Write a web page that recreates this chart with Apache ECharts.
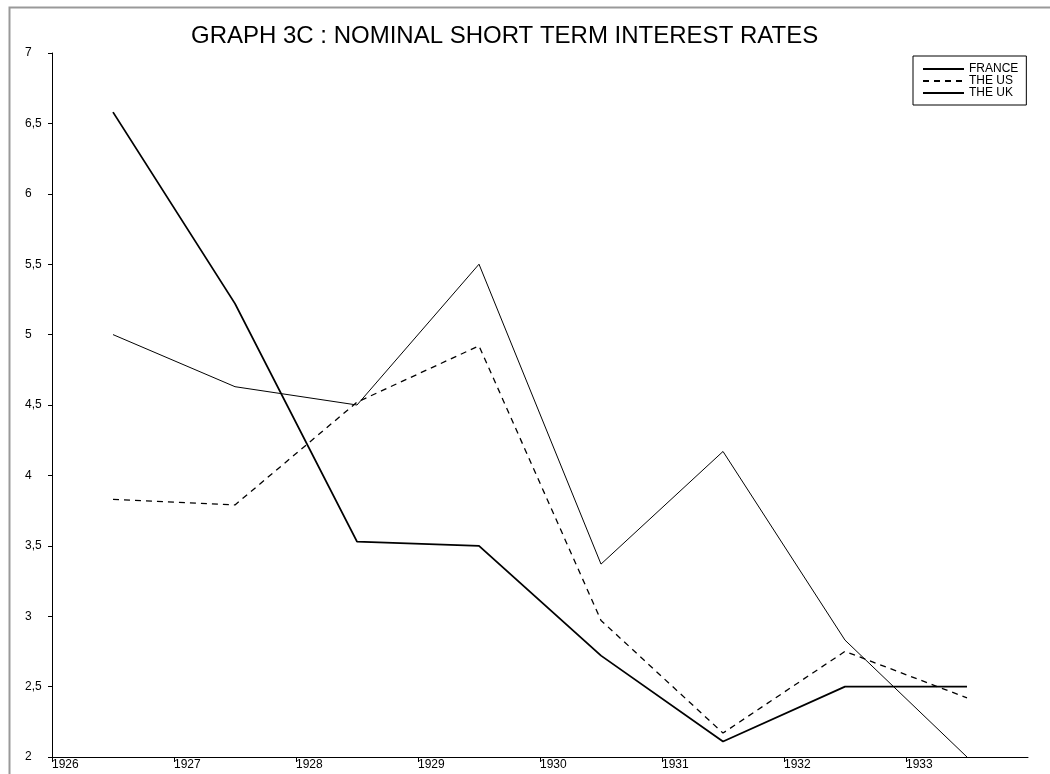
<!DOCTYPE html>
<html>
<head>
<meta charset="utf-8">
<script src="https://cdn.jsdelivr.net/npm/echarts@6/dist/echarts.min.js"></script>
<style>html,body{margin:0;padding:0;background:#fff}#c{width:1050px;height:774px}</style>
</head>
<body>
<div id="c"></div>
<script>
const years = [1926.5, 1927.5, 1928.5, 1929.5, 1930.5, 1931.5, 1932.5, 1933.5];
const france = [6.58, 5.22, 3.53, 3.50, 2.72, 2.11, 2.50, 2.50];
const us = [3.83, 3.79, 4.52, 4.92, 2.97, 2.17, 2.75, 2.42];
const uk = [5.00, 4.63, 4.50, 5.50, 3.37, 4.17, 2.83, 2.00];
const seriesNames = ['FRANCE', 'THE US', 'THE UK'];
const titleText = 'GRAPH 3C : NOMINAL SHORT TERM INTEREST RATES';

const pair = (xs, ys) => xs.map((x, i) => [x, ys[i]]);
const font = 'Liberation Sans, Arial, sans-serif';

const chart = echarts.init(document.getElementById('c'), null, {renderer: 'canvas'});
chart.setOption({
  animation: false,
  backgroundColor: '#fff',
  title: {
    text: titleText,
    left: 186,
    top: 19,
    textStyle: {fontFamily: font, fontSize: 24, fontWeight: 'normal', color: '#000'}
  },
  graphic: [{
    type: 'rect', left: 7, top: 5,
    shape: {width: 1100, height: 1000},
    style: {fill: 'none', stroke: '#999', lineWidth: 2}, silent: true, z: -1
  }],
  legend: {
    orient: 'vertical',
    left: 913, top: 56,
    itemGap: 0, itemWidth: 41, itemHeight: 11.5,
    padding: [7, 8, 6, 9],
    borderColor: '#000', borderWidth: 1,
    itemStyle: {opacity: 0},
    textStyle: {fontFamily: font, fontSize: 12, color: '#000', padding: [0, 0, 0, 0]},
    data: seriesNames
  },
  grid: {left: 52, right: 22, top: 53, bottom: 17, containLabel: false},
  xAxis: {
    type: 'value', min: 1926, max: 1934, interval: 1,
    axisLine: {lineStyle: {color: '#000', width: 1}},
    axisTick: {show: true, length: 5, lineStyle: {color: '#000'}},
    splitLine: {show: false},
    axisLabel: {
      fontFamily: font, fontSize: 12, color: '#000', align: 'left', margin: 2,
      showMaxLabel: false,
      formatter: v => String(v)
    }
  },
  yAxis: {
    type: 'value', min: 2, max: 7, interval: 0.5,
    axisLine: {show: true, lineStyle: {color: '#000', width: 1}},
    axisTick: {show: true, length: 4, lineStyle: {color: '#000'}},
    splitLine: {show: false},
    axisLabel: {
      fontFamily: font, fontSize: 12, color: '#000', margin: 27, align: 'left',
      padding: [0, 0, 8, 0],
      formatter: v => String(v).replace('.', ',')
    }
  },
  series: [
    {name: seriesNames[0], type: 'line', data: pair(years, france), symbol: 'none', symbolSize: 0,
     lineStyle: {color: '#000', width: 1.8}, itemStyle: {color: '#000'}},
    {name: seriesNames[1], type: 'line', data: pair(years, us), symbol: 'none', symbolSize: 0,
     lineStyle: {color: '#000', width: 1.3, type: [6, 5]}, itemStyle: {color: '#000'}},
    {name: seriesNames[2], type: 'line', data: pair(years, uk), symbol: 'none', symbolSize: 0,
     lineStyle: {color: '#000', width: 1}, itemStyle: {color: '#000'}}
  ]
});
</script>
</body>
</html>
